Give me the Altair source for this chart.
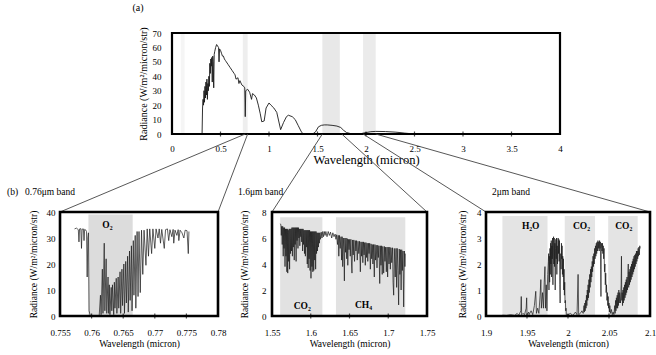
import altair as alt
import pandas as pd

FONT = "Liberation Serif"
W, H = 656, 355

# ---------------- data: (a) full spectrum ----------------
A_WL = [0.30, 0.31, 0.315, 0.32, 0.325, 0.33, 0.335, 0.34, 0.345, 0.35,
        0.355, 0.36, 0.365, 0.37, 0.375, 0.38, 0.385, 0.39, 0.395, 0.40,
        0.405, 0.41, 0.415, 0.42, 0.425, 0.43, 0.435, 0.44, 0.45, 0.46,
        0.47, 0.48, 0.485, 0.49, 0.50, 0.51, 0.52, 0.53, 0.54, 0.55,
        0.56, 0.58, 0.60, 0.62, 0.64, 0.65, 0.66, 0.68, 0.69, 0.70,
        0.72, 0.74, 0.75, 0.755, 0.76, 0.78, 0.80, 0.82, 0.83, 0.85,
        0.87, 0.89, 0.91, 0.925, 0.95, 0.97, 1.00, 1.02, 1.05, 1.08,
        1.10, 1.12, 1.15, 1.18, 1.20, 1.24, 1.27, 1.30, 1.33, 1.35,
        1.40, 1.45, 1.48, 1.51, 1.54, 1.57, 1.60, 1.65, 1.70, 1.74,
        1.77, 1.80, 1.84, 1.90, 1.95, 2.00, 2.05, 2.10, 2.20, 2.30,
        2.35, 2.40, 2.45, 2.50]
A_RAD = [0, 0, 18, 24, 20, 30, 22, 33, 25, 36,
         27, 38, 24, 35, 30, 40, 33, 49, 42, 52,
         47, 53, 36, 54, 50, 32, 55, 57, 60, 62,
         61, 60, 50, 59, 58, 56, 54, 54, 52, 51,
         50, 48, 46, 44, 42, 41, 38, 39, 35, 37,
         34, 33, 32, 12, 30, 31, 29, 24, 28, 27,
         25, 20, 14, 8.5, 9, 18, 21.5, 20, 18, 15,
         9, 3, 8, 12, 13, 12, 10, 6, 2, 0,
         0, 0, 1.5, 5, 6, 6.3, 6.3, 6, 5.5, 4.5,
         2.5, 1, 0.3, 0, 0.3, 1, 1.6, 1.8, 1.7, 1.3,
         1, 0.6, 0.3, 0]
A_BAND_LO = [0.09, 0.73, 1.55, 1.97]
A_BAND_HI = [0.13, 0.78, 1.73, 2.10]
A_BAND_SHADE = ["#f5f5f5", "#eeeeee", "#e8e8e8", "#ebebeb"]
A_XTICKS = [0, 0.5, 1, 1.5, 2, 2.5, 3, 3.5, 4]
A_YTICKS = [0, 10, 20, 30, 40, 50, 60, 70]

# ---------------- data: 0.76 um band ----------------
B1_WL = [0.7573, 0.7576, 0.7579, 0.7580, 0.7581, 0.7583, 0.7584, 0.7585, 0.7587, 0.7588,
         0.7589, 0.7591, 0.7592, 0.7593, 0.7594, 0.7595, 0.7596, 0.7598, 0.7612,
         0.7614, 0.7615, 0.7617, 0.7618, 0.7620, 0.7621, 0.7623, 0.7624, 0.7626, 0.7627,
         0.7628, 0.7629,
         0.7631, 0.7632, 0.7633, 0.7635, 0.7636, 0.7637, 0.7639, 0.7640, 0.7642, 0.7643,
         0.7645, 0.7646, 0.7648, 0.7649, 0.7651, 0.7652, 0.7654, 0.7655, 0.7657, 0.7658,
         0.7660, 0.7661, 0.7663, 0.7664, 0.7666, 0.7667, 0.7669, 0.7670, 0.7672, 0.76735,
         0.7675, 0.7677, 0.7679, 0.7681, 0.7683, 0.7686, 0.7688, 0.7690, 0.7692, 0.7695,
         0.7697, 0.7700, 0.7702, 0.7705, 0.7707, 0.7709, 0.7711, 0.7715, 0.7717, 0.7720,
         0.7722, 0.7724, 0.7727, 0.7729, 0.7730, 0.7732, 0.7735, 0.7737, 0.7738, 0.7740,
         0.7743, 0.7746, 0.7748, 0.7751, 0.7753, 0.7754]
B1_RAD = [33.5, 33.8, 33.2, 28.5, 33.5, 33.6, 26.0, 33.4, 33.5, 29.0,
          33.3, 33.0, 32.5, 15.0, 30.0, 32.0, 2.0, 0.0, 0.0,
          8.0, 0.5, 18.0, 1.0, 28.0, 2.0, 22.0, 1.0, 15.0, 1.0,
          12.0, 0.5,
          11.0, 2.0, 12.0, 0.5, 13.0, 3.0, 14.5, 1.0, 15.0, 3.0,
          17.0, 1.0, 18.0, 4.0, 20.0, 1.0, 21.0, 5.0, 23.0, 1.5,
          25.0, 6.0, 27.0, 2.0, 29.0, 8.0, 31.0, 3.0, 32.5, 7.5,
          32.5, 9.0, 33.0, 16.0, 33.0, 19.5, 33.5, 23.0, 33.5, 24.0,
          33.5, 26.0, 33.5, 30.0, 33.5, 28.0, 33.3, 26.0, 33.2, 33.5,
          29.0, 33.2, 30.5, 33.3, 28.0, 33.0, 31.0, 33.2, 29.0, 33.0,
          32.0, 30.0, 33.0, 32.8, 24.0, 32.5]
B1_BAND_LO = [0.7595]
B1_BAND_HI = [0.7665]
B1_LABEL = ["O₂"]
B1_LABEL_X = [0.7625]
B1_LABEL_Y = [35.0]
B1_XTICKS = [0.755, 0.76, 0.765, 0.77, 0.775, 0.78]
B1_YTICKS = [0, 10, 20, 30, 40]

# ---------------- data: 1.6 um band ----------------
B2_WL = [1.5608, 1.5615, 1.5620, 1.5625, 1.5632, 1.5638, 1.5645, 1.5650, 1.5656, 1.5662,
         1.5668, 1.5674, 1.5680, 1.5686, 1.5692, 1.5698, 1.5703, 1.5709, 1.5715, 1.5721,
         1.5727, 1.5733, 1.5739, 1.5745, 1.5751, 1.5757, 1.5763, 1.5769, 1.5775, 1.5781,
         1.5787, 1.5793, 1.5799, 1.5805, 1.5811, 1.5817, 1.5823, 1.5829, 1.5835, 1.5841,
         1.5847, 1.5853, 1.5859, 1.5865, 1.5871, 1.5877, 1.5883, 1.5889, 1.5895, 1.5901,
         1.5907, 1.5913, 1.5919, 1.5925, 1.5931, 1.5937, 1.5943, 1.5949, 1.5955, 1.5961,
         1.5967, 1.5973, 1.5979, 1.5985, 1.5991, 1.5997, 1.6003, 1.6009, 1.6015, 1.6021,
         1.6027, 1.6033, 1.6039, 1.6045, 1.6051, 1.6057, 1.6063, 1.6069, 1.6075, 1.6081,
         1.6087, 1.6093, 1.6099, 1.6105, 1.6111, 1.6117, 1.6125, 1.6135, 1.6145, 1.6155,
         1.6165, 1.6175, 1.6185, 1.6195, 1.6210, 1.6225, 1.6240, 1.6255, 1.6270, 1.6285,
         1.6300, 1.6315,
         1.6325, 1.6335, 1.6345, 1.6355, 1.6362, 1.6370, 1.6380, 1.6390,
         1.6398, 1.6405, 1.6412, 1.6420, 1.6428, 1.6434, 1.6440, 1.6448, 1.6456, 1.6464,
         1.6472, 1.6478, 1.6486, 1.6494, 1.6502, 1.6510, 1.6518, 1.6526, 1.6532, 1.6540,
         1.6548, 1.6556, 1.6565, 1.6575, 1.6583, 1.6591, 1.6600, 1.6610, 1.6620, 1.6630,
         1.6640, 1.6648, 1.6656, 1.6664, 1.6672, 1.6680, 1.6688, 1.6696, 1.6704, 1.6712,
         1.6720, 1.6728, 1.6736, 1.6744, 1.6752, 1.6760, 1.6769, 1.6778, 1.6786, 1.6794,
         1.6802, 1.6810, 1.6820, 1.6828, 1.6836, 1.6845, 1.6855, 1.6864, 1.6872, 1.6880,
         1.6890, 1.6898, 1.6906, 1.6914, 1.6922, 1.6930, 1.6941, 1.6950, 1.6958, 1.6966,
         1.6975, 1.6984, 1.6992, 1.7000, 1.7010, 1.7020, 1.7027, 1.7035, 1.7045, 1.7055,
         1.7062, 1.7070, 1.7078, 1.7090, 1.7100, 1.7108, 1.7116, 1.7126, 1.7134, 1.7142,
         1.7150, 1.7158, 1.7166, 1.7174, 1.7182, 1.7190, 1.7199, 1.7208, 1.7215, 1.7220]
B2_RAD = [7.1, 7.0, 6.2, 6.9, 5.5, 6.9, 4.6, 6.8, 5.2, 6.8,
          3.8, 6.7, 4.6, 6.7, 3.4, 6.7, 3.3, 6.6, 4.2, 6.7,
          3.6, 6.7, 4.8, 6.7, 5.0, 6.8, 4.6, 6.8, 5.3, 6.8,
          4.3, 6.8, 5.5, 6.8, 4.2, 6.8, 5.8, 6.8, 5.2, 6.8,
          6.0, 6.7, 5.4, 6.7, 6.1, 6.7, 5.7, 6.7, 5.0, 6.7,
          5.5, 6.6, 4.8, 6.6, 4.6, 6.6, 5.3, 6.6, 4.0, 6.6,
          3.7, 6.6, 4.4, 6.6, 3.5, 6.5, 2.9, 6.5, 3.8, 6.5,
          3.4, 6.5, 3.5, 6.5, 4.3, 6.5, 3.6, 6.5, 4.8, 6.4,
          5.0, 6.4, 5.3, 6.4, 5.6, 6.4, 5.9, 6.45, 6.0, 6.5,
          6.1, 6.5, 6.2, 6.5, 6.1, 6.5, 6.2, 6.45, 6.0, 6.4,
          6.1, 6.3,
          5.9, 6.25, 5.5, 6.2, 4.6, 6.2, 5.2, 6.1,
          4.3, 6.1, 3.8, 6.0, 5.0, 2.7, 6.0, 4.9, 6.0, 4.4,
          5.95, 3.9, 5.9, 5.1, 5.9, 4.6, 5.9, 4.0, 3.3, 5.85,
          4.7, 5.85, 4.2, 5.8, 5.0, 5.8, 4.3, 5.75, 4.8, 5.75,
          3.4, 5.7, 4.6, 5.7, 4.1, 5.7, 4.7, 5.65, 3.9, 5.65,
          4.5, 5.6, 4.2, 5.6, 4.8, 5.6, 3.6, 5.55, 4.4, 5.5,
          4.0, 5.5, 3.0, 5.5, 4.3, 5.45, 3.7, 5.45, 4.5, 5.4,
          2.5, 5.4, 3.9, 5.4, 3.2, 5.35, 3.3, 5.35, 4.2, 5.3,
          3.4, 5.3, 3.0, 5.3, 4.0, 5.3, 3.6, 5.25, 4.1, 5.25,
          2.6, 1.6, 5.2, 3.0, 5.2, 2.2, 5.2, 3.5, 0.85, 5.15,
          3.2, 5.1, 2.0, 5.1, 3.5, 5.0, 0.7, 5.0, 3.8, 4.8]
B2_BAND_LO = [1.5605, 1.6325]
B2_BAND_HI = [1.6150, 1.7220]
B2_LABEL = ["CO₂", "CH₄"]
B2_LABEL_X = [1.589, 1.668]
B2_LABEL_Y = [0.8, 0.85]
B2_XTICKS = [1.55, 1.6, 1.65, 1.7, 1.75]
B2_YTICKS = [0, 2, 4, 6, 8]

# ---------------- data: 2 um band ----------------
B3_WL = [1.9200, 1.9250, 1.9300, 1.9350, 1.9380, 1.9400, 1.9425, 1.9430, 1.9435, 1.9450,
         1.9470, 1.9490, 1.9496, 1.9500, 1.9520, 1.9525, 1.9550, 1.9570, 1.9590, 1.9607,
         1.9615, 1.9630, 1.9645, 1.9660, 1.9669, 1.9675, 1.9690, 1.9700, 1.9710, 1.9719,
         1.9725, 1.9735, 1.9743, 1.9752, 1.9760, 1.9764, 1.9768, 1.9772, 1.9776, 1.9780,
         1.9784, 1.9788, 1.9792, 1.9796, 1.9800, 1.9804, 1.9808, 1.9812, 1.9816, 1.9820,
         1.9824, 1.9828, 1.9832, 1.9836, 1.9840, 1.9844, 1.9848, 1.9852, 1.9856, 1.9860,
         1.9864, 1.9868, 1.9872, 1.9876, 1.9880, 1.9884, 1.9888, 1.9892, 1.9896, 1.9900,
         1.9904, 1.9908, 1.9912, 1.9916, 1.9920, 1.9924, 1.9928, 1.9932, 1.9936, 1.9940,
         1.9944, 1.9948, 1.9952, 1.9956, 1.9960, 1.9964, 1.9968, 1.9972, 1.9976, 1.9980,
         2.0000, 2.0030, 2.0060, 2.0090, 2.0110, 2.0123, 2.0130, 2.0150, 2.0170, 2.0185,
         2.0195, 2.0200, 2.0205, 2.0210, 2.0215, 2.0220, 2.0225, 2.0230, 2.0235, 2.0240,
         2.0245, 2.0250, 2.0255, 2.0260, 2.0265, 2.0270, 2.0275, 2.0280, 2.0285, 2.0290,
         2.0295, 2.0300, 2.0305, 2.0310, 2.0315, 2.0320, 2.0325, 2.0330, 2.0335, 2.0340,
         2.0345, 2.0350, 2.0355, 2.0360, 2.0365, 2.0370, 2.0375, 2.0380, 2.0385, 2.0390,
         2.0395, 2.0398, 2.0402, 2.0406, 2.0410, 2.0415, 2.0420, 2.0425, 2.0430, 2.0435,
         2.0440, 2.0445, 2.0450, 2.0455, 2.0460, 2.0465, 2.0470, 2.0475, 2.0480, 2.0485,
         2.0490, 2.0495, 2.0500, 2.0505, 2.0510, 2.0520, 2.0530, 2.0540, 2.0550, 2.0560,
         2.0570, 2.0575, 2.0580, 2.0585, 2.0590, 2.0595, 2.0600, 2.0605, 2.0610, 2.0615,
         2.0620, 2.0625, 2.0630, 2.0640, 2.0648, 2.0652, 2.0656, 2.0660, 2.0665, 2.0670,
         2.0675, 2.0680, 2.0685, 2.0690, 2.0695, 2.0700, 2.0705, 2.0710, 2.0715, 2.0720,
         2.0725, 2.0730, 2.0735, 2.0740, 2.0745, 2.0750, 2.0755, 2.0760, 2.0765, 2.0770,
         2.0775, 2.0780, 2.0785, 2.0790, 2.0795, 2.0800, 2.0805, 2.0810, 2.0815, 2.0820,
         2.0825, 2.0830, 2.0835, 2.0840, 2.0845, 2.0850, 2.0855, 2.0860, 2.0865, 2.0870,
         2.0875, 2.0880]
B3_RAD = [0.03, 0.02, 0.05, 0.02, 0.10, 0.03, 0.20, 0.75, 0.05, 0.10,
          0.05, 0.30, 0.70, 0.05, 0.15, 0.05, 0.20, 0.05, 0.40, 0.95,
          0.10, 0.30, 0.10, 0.80, 1.40, 0.30, 0.90, 0.30, 1.30, 1.90,
          0.30, 1.20, 0.20, 1.60, 2.1, 2.4, 1.0, 2.3, 1.3, 2.6,
          1.6, 2.8, 2.0, 2.9, 1.5, 2.7, 2.2, 3.0, 1.2, 2.9,
          3.05, 2.0, 3.0, 1.9, 2.8, 1.0, 2.6, 2.95, 2.2, 3.0,
          1.6, 2.7, 2.0, 2.9, 3.0, 2.4, 2.95, 2.1, 2.9, 1.2,
          0.5, 2.0, 2.4, 1.8, 2.8, 2.2, 2.7, 1.6, 2.3, 1.5,
          2.2, 1.0, 1.8, 0.8, 1.3, 0.5, 0.6, 0.2, 0.3, 0.05,
          0.05, 0.1, 0.02, 0.15, 0.05, 1.6, 0.05, 0.1, 0.2, 0.1,
          0.4, 0.15, 0.5, 0.2, 0.6, 0.3, 0.8, 0.4, 1.0, 0.6,
          1.2, 0.7, 1.4, 0.9, 1.6, 1.1, 1.8, 1.3, 1.9, 1.5,
          2.1, 1.7, 2.3, 1.9, 2.4, 2.0, 2.6, 2.2, 2.7, 2.3,
          2.8, 2.4, 2.85, 2.5, 2.9, 2.6, 2.85, 2.5, 2.9, 2.6,
          2.85, 1.8, 0.75, 2.6, 2.8, 2.5, 2.8, 2.4, 2.7, 2.2,
          2.6, 1.7, 2.0, 1.2, 1.65, 0.9, 1.2, 0.6, 0.9, 0.4,
          0.75, 0.3, 0.5, 0.15, 0.4, 0.1, 0.25, 0.05, 0.15, 0.05,
          0.4, 0.1, 0.6, 0.2, 0.7, 0.3, 0.8, 0.3, 0.9, 0.4,
          1.0, 0.5, 0.9, 0.5, 1.2, 2.3, 0.6, 0.9, 0.4, 1.0,
          0.5, 1.1, 0.6, 1.2, 0.7, 1.3, 0.8, 1.4, 0.9, 1.5,
          1.0, 1.6, 2.0, 1.1, 1.7, 1.2, 1.8, 1.3, 1.9, 1.4,
          2.0, 1.5, 2.1, 1.6, 2.2, 1.7, 2.3, 1.8, 2.35, 1.9,
          2.4, 2.0, 2.5, 2.1, 2.5, 2.2, 2.6, 2.3, 2.65, 2.35,
          2.7, 2.6]
B3_BAND_LO = [1.920, 1.996, 2.049]
B3_BAND_HI = [1.975, 2.033, 2.085]
B3_LABEL = ["H₂O", "CO₂", "CO₂"]
B3_LABEL_X = [1.9545, 2.0165, 2.068]
B3_LABEL_Y = [3.45, 3.45, 3.45]
B3_XTICKS = [1.9, 1.95, 2.0, 2.05, 2.1]
B3_YTICKS = [0, 1, 2, 3, 4]

# ---------------- layout (pixels) ----------------
A_BOX = dict(left=172, right=560, bottom=134, top=33)
B_BOTTOM, B_TOP = 316, 212
B1_BOX = dict(left=60, right=218, bottom=B_BOTTOM, top=B_TOP)
B2_BOX = dict(left=272, right=427, bottom=B_BOTTOM, top=B_TOP)
B3_BOX = dict(left=486, right=650, bottom=B_BOTTOM, top=B_TOP)

YTITLE = "Radiance (W/m²/micron/str)"
XTITLE = "Wavelength (micron)"


def make_panel(box, xdom, ydom, wl, rad, xticks, yticks, band_lo, band_hi, band_color,
               band_top, labels, lab_x, lab_y, xtitle_size, ytitle_size, label_size,
               xlab_pad, xtitle_pad, ylab_pad, ytitle_pad, frame_w, line_w, extra=None):
    xs = alt.Scale(domain=xdom, range=[box["left"], box["right"]], nice=False, zero=False)
    ys = alt.Scale(domain=ydom, range=[box["bottom"], box["top"]], nice=False, zero=False)
    xaxis = alt.Axis(orient="bottom", offset=box["bottom"] - H, values=xticks, format="~g",
                     ticks=False, domain=False, grid=False, labelFlush=False, labelOverlap=False,
                     labelFont=FONT, labelFontSize=label_size, labelColor="black",
                     labelPadding=xlab_pad, title=XTITLE, titleFont=FONT,
                     titleFontSize=xtitle_size, titleFontWeight="normal", titleColor="black",
                     titlePadding=xtitle_pad)
    yaxis = alt.Axis(orient="left", offset=-box["left"], values=yticks, format="d",
                     ticks=False, domain=False, grid=False, labelOverlap=False,
                     labelFont=FONT, labelFontSize=label_size, labelColor="black",
                     labelPadding=ylab_pad, title=YTITLE, titleFont=FONT,
                     titleFontSize=ytitle_size, titleFontWeight="normal", titleColor="black",
                     titlePadding=ytitle_pad)

    def X(f):
        return alt.X(f, scale=xs, axis=xaxis)

    def Y(f):
        return alt.Y(f, scale=ys, axis=yaxis)

    bands_df = pd.DataFrame({"lo": band_lo, "hi": band_hi, "col": band_color,
                             "b0": [ydom[0]] * len(band_lo), "b1": [band_top] * len(band_lo)})
    bands = alt.Chart(bands_df).mark_rect().encode(
        x=X("lo:Q"), x2="hi:Q", y=Y("b0:Q"), y2="b1:Q",
        color=alt.Color("col:N", scale=None, legend=None))

    line_df = pd.DataFrame({"wl": wl, "rad": rad})
    line = alt.Chart(line_df).mark_line(strokeWidth=line_w, color="#1a1a1a").encode(
        x=X("wl:Q"), y=Y("rad:Q"))

    layers = [bands, line]
    if labels:
        lab_df = pd.DataFrame({"t": labels, "x": lab_x, "y": lab_y})
        layers.append(alt.Chart(lab_df).mark_text(font=FONT, fontSize=9.5, fontWeight="bold",
                                                  color="black").encode(
            x=X("x:Q"), y=Y("y:Q"), text="t:N"))

    tick_df = pd.DataFrame({"t": xticks[1:-1], "y": [ydom[0]] * (len(xticks) - 2)})
    layers.append(alt.Chart(tick_df).mark_tick(orient="vertical", size=5, thickness=1.2,
                                               color="black").encode(
        x=X("t:Q"), y=Y("y:Q")))

    frame_df = pd.DataFrame({"x0": [xdom[0]], "x1": [xdom[1]], "y0": [ydom[0]], "y1": [ydom[1]]})
    layers.append(alt.Chart(frame_df).mark_rect(fillOpacity=0, stroke="black",
                                                strokeWidth=frame_w).encode(
        x=X("x0:Q"), x2="x1:Q", y=Y("y0:Q"), y2="y1:Q"))
    if extra:
        layers.extend([e(X, Y, xdom, ydom) for e in extra])
    return alt.layer(*layers)


# ---- connector lines from the top panel down to the zoom panels (top panel coords)
def a_inv(px, py):
    wl = (px - A_BOX["left"]) / (A_BOX["right"] - A_BOX["left"]) * 4.0
    rad = (py - A_BOX["bottom"]) / (A_BOX["top"] - A_BOX["bottom"]) * 70.0
    return wl, rad


CONN_FROM = [0.755, 0.78, 1.55, 1.75, 1.97, 2.10]
CONN_TO_PX = [(B1_BOX["left"], B_TOP), (B1_BOX["right"], B_TOP),
              (B2_BOX["left"], B_TOP), (B2_BOX["right"], B_TOP),
              (B3_BOX["left"], B_TOP), (B3_BOX["right"], B_TOP)]
conn_df = pd.DataFrame({
    "x0": CONN_FROM, "y0": [0.0] * 6,
    "x1": [a_inv(*p)[0] for p in CONN_TO_PX], "y1": [a_inv(*p)[1] for p in CONN_TO_PX]})


def connectors(X, Y, xdom, ydom):
    return alt.Chart(conn_df).mark_rule(clip=False, strokeWidth=0.9, color="#444").encode(
        x=X("x0:Q"), x2="x1:Q", y=Y("y0:Q"), y2="y1:Q")


def a_tag(X, Y, xdom, ydom):
    df = pd.DataFrame({"x": [xdom[0]], "y": [ydom[1]], "t": ["(a)"]})
    return alt.Chart(df).mark_text(font=FONT, fontSize=10, color="black", dx=-34, dy=-25).encode(
        x=X("x:Q"), y=Y("y:Q"), text="t:N")


def band_tag(texts, dxs, dy):
    def f(X, Y, xdom, ydom):
        charts = []
        for t, dx in zip(texts, dxs):
            df = pd.DataFrame({"x": [xdom[0]], "y": [ydom[1]], "t": [t]})
            charts.append(alt.Chart(df).mark_text(font=FONT, fontSize=9.5, color="black",
                                                  align="left", dx=dx, dy=dy).encode(
                x=X("x:Q"), y=Y("y:Q"), text="t:N"))
        return alt.layer(*charts)
    return f


pA = make_panel(A_BOX, [0, 4], [0, 70], A_WL, A_RAD, A_XTICKS, A_YTICKS,
                A_BAND_LO, A_BAND_HI, A_BAND_SHADE, 70, [], [], [],
                xtitle_size=12.5, ytitle_size=10, label_size=9,
                xlab_pad=10, xtitle_pad=0, ylab_pad=11, ytitle_pad=4, frame_w=2.2, line_w=0.9,
                extra=[connectors, a_tag])

p1 = make_panel(B1_BOX, [0.755, 0.78], [0, 40], B1_WL, B1_RAD, B1_XTICKS, B1_YTICKS,
                B1_BAND_LO, B1_BAND_HI, ["#dcdcdc"], 39, B1_LABEL, B1_LABEL_X, B1_LABEL_Y,
                xtitle_size=9.5, ytitle_size=9.5, label_size=9,
                xlab_pad=12, xtitle_pad=1, ylab_pad=5, ytitle_pad=8, frame_w=2.6, line_w=0.7,
                extra=[band_tag(["(b)", "0.76μm band"], [-53, -35], -20)])

p2 = make_panel(B2_BOX, [1.55, 1.75], [0, 8], B2_WL, B2_RAD, B2_XTICKS, B2_YTICKS,
                B2_BAND_LO, B2_BAND_HI, ["#e2e2e2", "#e2e2e2"], 7.6, B2_LABEL, B2_LABEL_X,
                B2_LABEL_Y, xtitle_size=9.5, ytitle_size=9.5, label_size=9,
                xlab_pad=12, xtitle_pad=1, ylab_pad=6, ytitle_pad=12, frame_w=2.6, line_w=0.7,
                extra=[band_tag(["1.6μm band"], [-34], -20)])

p3 = make_panel(B3_BOX, [1.9, 2.1], [0, 4], B3_WL, B3_RAD, B3_XTICKS, B3_YTICKS,
                B3_BAND_LO, B3_BAND_HI, ["#e4e4e4", "#e4e4e4", "#e4e4e4"], 3.85, B3_LABEL,
                B3_LABEL_X, B3_LABEL_Y, xtitle_size=9.5, ytitle_size=9.5, label_size=9,
                xlab_pad=12, xtitle_pad=1, ylab_pad=5, ytitle_pad=9, frame_w=2.6, line_w=0.7,
                extra=[band_tag(["2μm band"], [6], -20)])

chart = alt.layer(pA, p1, p2, p3).resolve_scale(
    x="independent", y="independent"
).resolve_axis(
    x="independent", y="independent"
).properties(
    width=W, height=H, padding=0, autosize=alt.AutoSizeParams(type="none")
).configure_view(stroke=None)

chart.save("out.html", embed_options={"renderer": "svg", "actions": False})
